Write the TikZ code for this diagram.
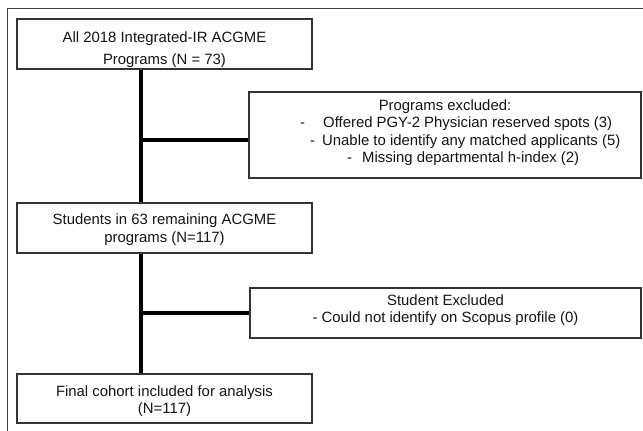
\documentclass[tikz,border=0pt]{standalone}
\usepackage{fontspec}
\setmainfont{Liberation Sans}
\begin{document}
\begin{tikzpicture}[x=1pt,y=-1pt,
  box/.style={draw=black!80,line width=1.5pt,inner sep=0pt},
  conn/.style={draw=black,line width=3.2pt},
  txt/.style={inner sep=0pt,anchor=base,text=black!92,font=\fontsize{14.9}{17.5}\selectfont},
  frame/.style={draw=black!75,line width=1pt}]
\useasboundingbox (0,0) rectangle (643,431);
% outer frame (top and left edges visible)
\coordinate (ftr) at (643,8);
\coordinate (ftl) at (7,8);
\coordinate (fbl) at (7,431);
\draw[frame] (ftr) -- (ftl) -- (fbl);
% boxes
\node[box,minimum width=295,minimum height=50] (b1) at (164.5,44) {};
\node[box,minimum width=392,minimum height=86] (b2) at (445,135) {};
\node[box,minimum width=295,minimum height=50] (b4) at (164.5,228) {};
\node[box,minimum width=391,minimum height=50] (b3) at (445.5,313) {};
\node[box,minimum width=295,minimum height=49] (b5) at (164.5,398.5) {};
% texts
\node[txt] (t1a) at (164.5,42) {All 2018 Integrated-IR ACGME};
\node[txt] (t1b) at (164.5,64) {Programs (N = 73)};
\node[txt] (t2a) at (445,110) {Programs excluded:};
\node[txt,anchor=base west] (t2b) at (300,127.5) {-\hspace{18pt}Offered PGY-2 Physician reserved spots (3)};
\node[txt,anchor=base west] (t2c) at (310,145) {-\hspace{7pt}Unable to identify any matched applicants (5)};
\node[txt,anchor=base west] (t2d) at (347,162.5) {-\hspace{10pt}Missing departmental h-index (2)};
\node[txt] (t4a) at (164.5,224.5) {Students in 63 remaining ACGME};
\node[txt] (t4b) at (164.5,242) {programs (N=117)};
\node[txt] (t3a) at (445.5,305) {Student Excluded};
\node[txt] (t3b) at (445.5,322) {- Could not identify on Scopus profile (0)};
\node[txt] (t5a) at (164.5,396) {Final cohort included for analysis};
\node[txt] (t5b) at (164.5,413) {(N=117)};
% connectors
\coordinate (v) at (141,0);
\coordinate (j1) at (141,140);
\coordinate (j2) at (141,313);
\draw[conn] (b1.south -| v) -- (b4.north -| v);
\draw[conn] (j1) -- (j1 -| b2.west);
\draw[conn] (b4.south -| v) -- (b5.north -| v);
\draw[conn] (j2) -- (j2 -| b3.west);
\end{tikzpicture}
\end{document}
